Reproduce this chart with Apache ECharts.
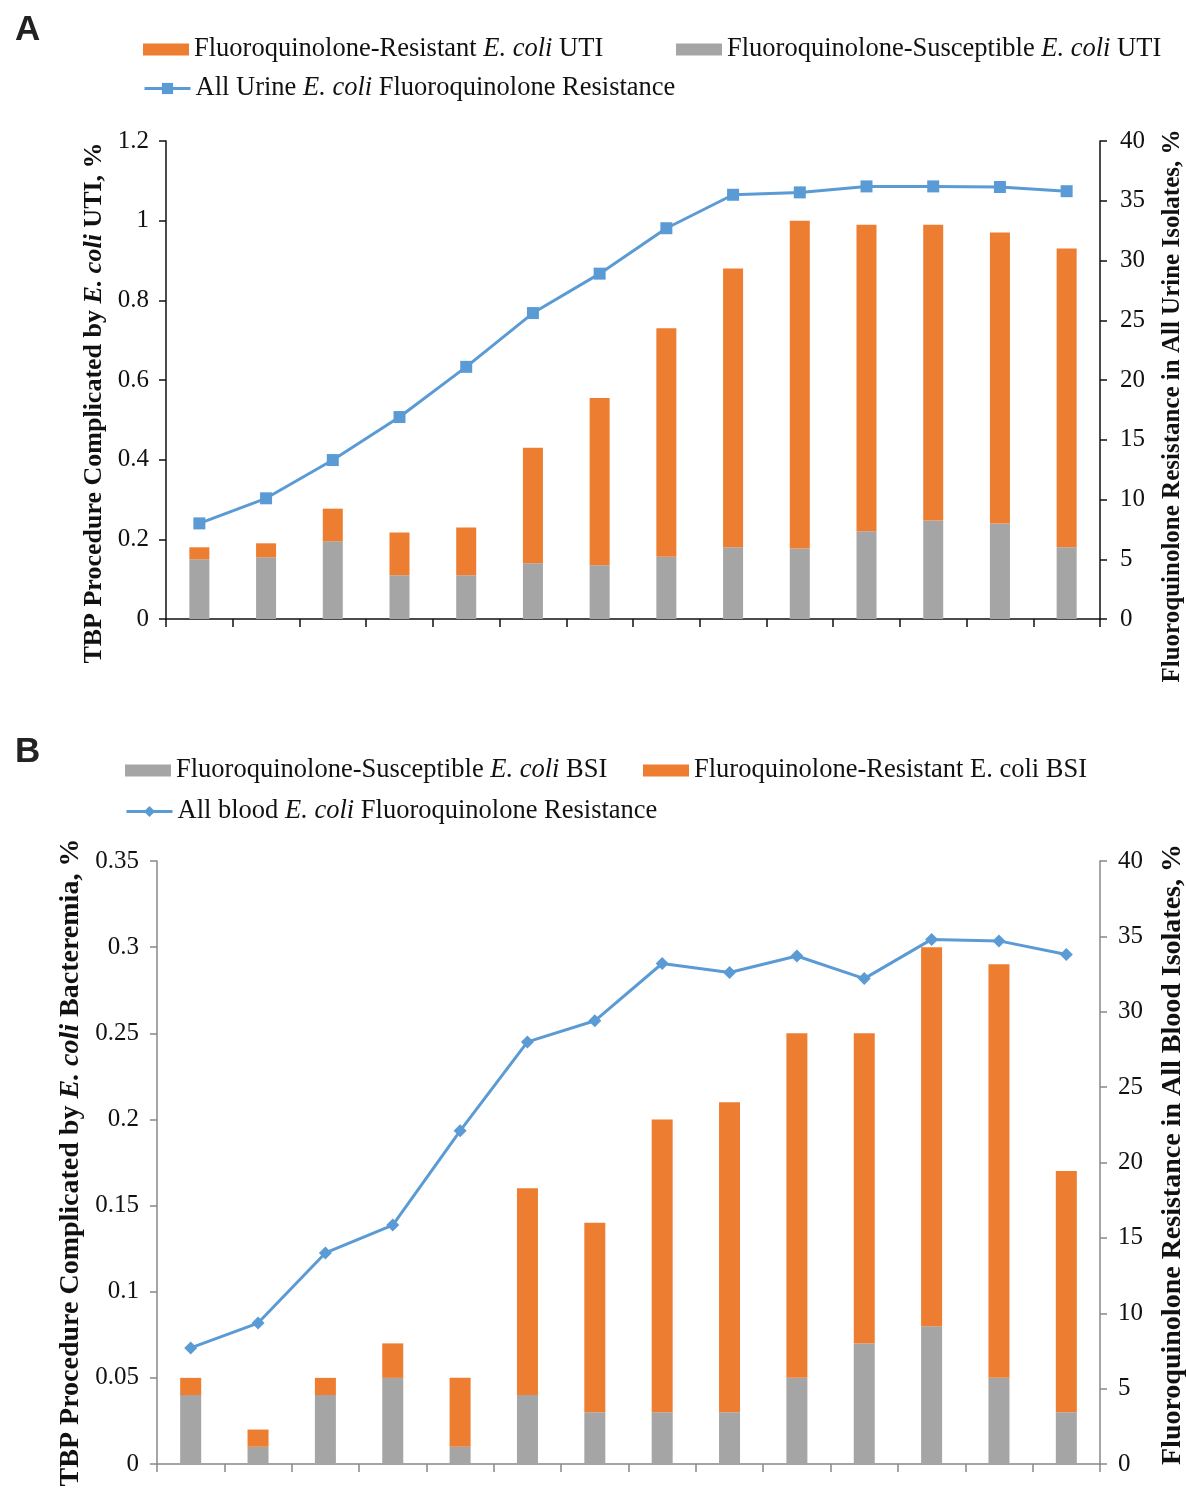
<!DOCTYPE html>
<html>
<head>
<meta charset="utf-8">
<script src="https://cdn.jsdelivr.net/npm/echarts@6/dist/echarts.min.js"></script>
<style>
html,body{margin:0;padding:0;background:#fff;}
#main{width:1186px;height:1490px;}
</style>
</head>
<body>
<div id="main"></div>
<script>
// ---- Data ----
var periods = ['1','2','3','4','5','6','7','8','9','10','11','12','13','14'];

// Panel A (UTI)
var utiSusceptible = [0.15, 0.155, 0.195, 0.11, 0.11, 0.14, 0.135, 0.156, 0.18, 0.177, 0.22, 0.247, 0.24, 0.18];
var utiResistant   = [0.03, 0.035, 0.082, 0.107, 0.12, 0.29, 0.42, 0.574, 0.70, 0.823, 0.77, 0.743, 0.73, 0.75];
var urineFQR       = [8.0, 10.1, 13.3, 16.9, 21.1, 25.6, 28.9, 32.7, 35.5, 35.7, 36.2, 36.2, 36.15, 35.8];

// Panel B (BSI)
var bsiSusceptible = [0.04, 0.01, 0.04, 0.05, 0.01, 0.04, 0.03, 0.03, 0.03, 0.05, 0.07, 0.08, 0.05, 0.03];
var bsiResistant   = [0.01, 0.01, 0.01, 0.02, 0.04, 0.12, 0.11, 0.17, 0.18, 0.20, 0.18, 0.22, 0.24, 0.14];
var bloodFQR       = [7.7, 9.35, 14.0, 15.85, 22.1, 28.0, 29.4, 33.2, 32.6, 33.7, 32.2, 34.8, 34.7, 33.8];

// ---- Names ----
var N_A_RES = 'Fluoroquinolone-Resistant E. coli UTI';
var N_A_SUS = 'Fluoroquinolone-Susceptible E. coli UTI';
var N_A_LINE = 'All Urine E. coli Fluoroquinolone Resistance';
var N_B_SUS = 'Fluoroquinolone-Susceptible E. coli BSI';
var N_B_RES = 'Fluroquinolone-Resistant E. coli BSI';
var N_B_LINE = 'All blood E. coli Fluoroquinolone Resistance';

var LF = 26.5;
var richLegend = {
  n: {fontFamily: 'Liberation Serif', fontSize: LF, color: '#111'},
  i: {fontFamily: 'Liberation Serif', fontSize: LF, color: '#111', fontStyle: 'italic'}
};
var legendFmt = {};
legendFmt[N_A_RES] = '{n|Fluoroquinolone-Resistant }{i|E. coli}{n| UTI}';
legendFmt[N_A_SUS] = '{n|Fluoroquinolone-Susceptible }{i|E. coli}{n| UTI}';
legendFmt[N_A_LINE] = '{n|All Urine }{i|E. coli}{n| Fluoroquinolone Resistance}';
legendFmt[N_B_SUS] = '{n|Fluoroquinolone-Susceptible }{i|E. coli}{n| BSI}';
legendFmt[N_B_RES] = '{n|Fluroquinolone-Resistant E. coli BSI}';
legendFmt[N_B_LINE] = '{n|All blood }{i|E. coli}{n| Fluoroquinolone Resistance}';

var ORANGE = '#ED7D31', GREY = '#A5A5A5', BLUE = '#5B9BD5';

function mkLegend(name, left, top, isLine) {
  var l = {
    data: [isLine ? name : {name: name, icon: 'rect'}], left: left, top: top,
    padding: 0, itemWidth: 46, itemHeight: 12,
    selectedMode: false,
    formatter: function (n) { return legendFmt[n]; },
    textStyle: {rich: richLegend, fontSize: LF, fontFamily: 'Liberation Serif'}
  };
  if (isLine) { l.lineStyle = {width: 3}; l.itemHeight = 14; }
  return l;
}

function nameStyle(fs, pad) {
  return {
    fontFamily: 'Liberation Serif', fontSize: fs, fontWeight: 'bold', color: '#111', padding: pad,
    rich: {
      b: {fontFamily: 'Liberation Serif', fontSize: fs, fontWeight: 'bold', color: '#111'},
      bi: {fontFamily: 'Liberation Serif', fontSize: fs, fontWeight: 'bold', fontStyle: 'italic', color: '#111'}
    }
  };
}

function yAxisCfg(gridIndex, pos, min, max, interval, name, nameGap, nameFs, pad, lineColor, labelMargin, labelFmt) {
  return {
    type: 'value', gridIndex: gridIndex, position: pos,
    min: min, max: max, interval: interval,
    name: name, nameLocation: 'middle', nameGap: nameGap, nameRotate: 90,
    nameTextStyle: nameStyle(nameFs, pad),
    axisLine: {show: true, lineStyle: {color: lineColor, width: 1.5}},
    axisTick: {show: true, length: 7, lineStyle: {color: lineColor, width: 1.5}},
    splitLine: {show: false},
    axisLabel: {
      fontFamily: 'Liberation Serif', fontSize: 25, color: '#111', margin: labelMargin,
      formatter: labelFmt
    }
  };
}

function fmtDec(v) { return String(+v.toFixed(2)); }
function fmtInt(v) { return String(v); }

var option = {
  animation: false,
  backgroundColor: '#fff',
  title: [
    {text: 'A', left: 10, top: 8, textStyle: {fontFamily: 'Liberation Sans', fontSize: 35, fontWeight: 'bold', color: '#222'}},
    {text: 'B', left: 10, top: 730, textStyle: {fontFamily: 'Liberation Sans', fontSize: 35, fontWeight: 'bold', color: '#222'}}
  ],
  legend: [
    mkLegend(N_A_RES, 143, 36, false),
    mkLegend(N_A_SUS, 676, 36, false),
    mkLegend(N_A_LINE, 143, 75, true),
    mkLegend(N_B_SUS, 125, 757, false),
    mkLegend(N_B_RES, 643, 757, false),
    mkLegend(N_B_LINE, 125, 798, true)
  ],
  grid: [
    {left: 166, right: 86, top: 141, height: 478, outerBoundsMode: 'none', containLabel: false},
    {left: 157, right: 86, top: 861, height: 603, outerBoundsMode: 'none', containLabel: false}
  ],
  xAxis: [
    {type: 'category', gridIndex: 0, data: periods,
     axisLine: {lineStyle: {color: '#111', width: 1.5}},
     axisTick: {show: true, interval: 0, length: 8, lineStyle: {color: '#111', width: 1.5}},
     axisLabel: {show: false}},
    {type: 'category', gridIndex: 1, data: periods,
     axisLine: {lineStyle: {color: '#888', width: 1.5}},
     axisTick: {show: true, interval: 0, length: 8, lineStyle: {color: '#888', width: 1.5}},
     axisLabel: {show: false}}
  ],
  yAxis: [
    yAxisCfg(0, 'left', 0, 1.2, 0.2, '{b|TBP Procedure Complicated by }{bi|E. coli}{b| UTI, %}',
      58, 26, [0, 46, 0, 0], '#111', 17, fmtDec),
    yAxisCfg(0, 'right', 0, 40, 5, 'Fluoroquinolone Resistance in All Urine Isolates, %',
      60, 25, [0, 52, 0, 0], '#111', 20, fmtInt),
    yAxisCfg(1, 'left', 0, 0.35, 0.05, '{b|TBP Procedure Complicated by }{bi|E. coli}{b| Bacteremia, %}',
      66, 28, [0, 0, 0, 0], '#888', 18, fmtDec),
    yAxisCfg(1, 'right', 0, 40, 5, 'Fluoroquinolone Resistance in All Blood Isolates, %',
      59, 28, [0, 0, 0, 16], '#888', 18, fmtInt)
  ],
  series: [
    {name: N_A_SUS, type: 'bar', xAxisIndex: 0, yAxisIndex: 0, stack: 'a', data: utiSusceptible,
     barWidth: 20, itemStyle: {color: GREY}},
    {name: N_A_RES, type: 'bar', xAxisIndex: 0, yAxisIndex: 0, stack: 'a', data: utiResistant,
     barWidth: 20, itemStyle: {color: ORANGE}},
    {name: N_A_LINE, type: 'line', xAxisIndex: 0, yAxisIndex: 1, data: urineFQR,
     symbol: 'rect', symbolSize: 12, lineStyle: {color: BLUE, width: 3}, itemStyle: {color: BLUE}},
    {name: N_B_SUS, type: 'bar', xAxisIndex: 1, yAxisIndex: 2, stack: 'b', data: bsiSusceptible,
     barWidth: 21, itemStyle: {color: GREY}},
    {name: N_B_RES, type: 'bar', xAxisIndex: 1, yAxisIndex: 2, stack: 'b', data: bsiResistant,
     barWidth: 21, itemStyle: {color: ORANGE}},
    {name: N_B_LINE, type: 'line', xAxisIndex: 1, yAxisIndex: 3, data: bloodFQR,
     symbol: 'diamond', symbolSize: 13, lineStyle: {color: BLUE, width: 3}, itemStyle: {color: BLUE}}
  ]
};

var chart = echarts.init(document.getElementById('main'), null, {renderer: 'canvas'});
chart.setOption(option);
</script>
</body>
</html>
